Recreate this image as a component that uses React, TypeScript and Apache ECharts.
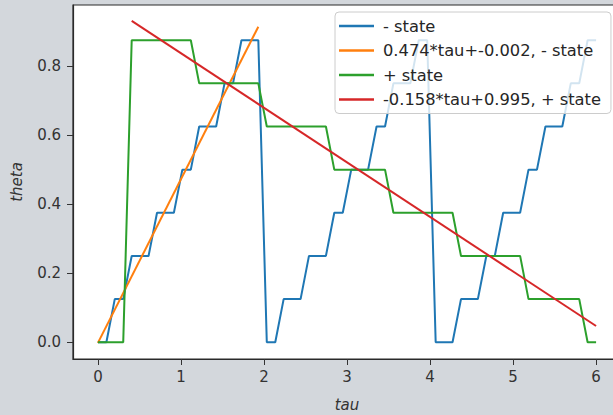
import React, { useEffect, useRef } from "react";
import * as echarts from "echarts";

const tau = [
  0, 0.102, 0.203, 0.305, 0.407, 0.508, 0.61, 0.712, 0.814, 0.915,
  1.017, 1.119, 1.22, 1.322, 1.424, 1.525, 1.627, 1.729, 1.831, 1.932,
  2.034, 2.136, 2.237, 2.339, 2.441, 2.542, 2.644, 2.746, 2.847, 2.949,
  3.051, 3.153, 3.254, 3.356, 3.458, 3.559, 3.661, 3.763, 3.864, 3.966,
  4.068, 4.169, 4.271, 4.373, 4.475, 4.576, 4.678, 4.78, 4.881, 4.983,
  5.085, 5.186, 5.288, 5.39, 5.492, 5.593, 5.695, 5.797, 5.898, 6.0,
];

const minusState = [
  0, 0, 0.125, 0.125, 0.25, 0.25, 0.25, 0.375, 0.375, 0.375,
  0.5, 0.5, 0.625, 0.625, 0.625, 0.75, 0.75, 0.875, 0.875, 0.875,
  0, 0, 0.125, 0.125, 0.125, 0.25, 0.25, 0.25, 0.375, 0.375,
  0.5, 0.5, 0.5, 0.625, 0.625, 0.75, 0.75, 0.75, 0.875, 0.875,
  0, 0, 0, 0.125, 0.125, 0.125, 0.25, 0.25, 0.375, 0.375,
  0.375, 0.5, 0.5, 0.625, 0.625, 0.625, 0.75, 0.75, 0.875, 0.875,
];

const plusState = [
  0, 0, 0, 0, 0.875, 0.875, 0.875, 0.875, 0.875, 0.875,
  0.875, 0.875, 0.75, 0.75, 0.75, 0.75, 0.75, 0.75, 0.75, 0.75,
  0.625, 0.625, 0.625, 0.625, 0.625, 0.625, 0.625, 0.625, 0.5, 0.5,
  0.5, 0.5, 0.5, 0.5, 0.5, 0.375, 0.375, 0.375, 0.375, 0.375,
  0.375, 0.375, 0.375, 0.25, 0.25, 0.25, 0.25, 0.25, 0.25, 0.25,
  0.25, 0.125, 0.125, 0.125, 0.125, 0.125, 0.125, 0.125, 0, 0,
];

// fitted lines (endpoints)
const minusFitTau = [0, 1.932];
const minusFitTheta = [-0.002, 0.914];
const plusFitTau = [0.407, 6.0];
const plusFitTheta = [0.931, 0.047];

const xTicks = [0, 1, 2, 3, 4, 5, 6];
const yTicks = [0, 0.2, 0.4, 0.6, 0.8];

const seriesNames = [
  "- state",
  "0.474*tau+-0.002, - state",
  "+ state",
  "-0.158*tau+0.995, + state",
];
const colors = ["#1f77b4", "#ff7f0e", "#2ca02c", "#d62728"];

const zip = (xs: number[], ys: number[]) => xs.map((x, i) => [x, ys[i]]);

export default function App() {
  const ref = useRef<HTMLDivElement>(null);
  useEffect(() => {
    if (!ref.current) return;
    const chart = echarts.init(ref.current, null, { renderer: "svg" });
    const font = "DejaVu Sans";
    const lineSeries = (name: string, data: number[][], color: string) => ({
      name,
      type: "line",
      data,
      showSymbol: false,
      symbol: "none",
      color,
      lineStyle: { color, width: 2 },
    });
    chart.setOption({
      animation: false,
      backgroundColor: "#d3d7dc",
      textStyle: { fontFamily: font },
      grid: {
        left: 73,
        top: 5,
        right: -8,
        bottom: 56,
        containLabel: false,
        outerBoundsMode: "none",
        show: true,
        backgroundColor: "#ffffff",
        borderColor: "#2a2a2a",
        borderWidth: 1.2,
      },
      legend: {
        orient: "vertical",
        left: 335,
        top: 12,
        padding: [5, 10, 5, 4],
        itemGap: 6.5,
        itemWidth: 35,
        itemHeight: 2.5,
        icon: "rect",
        backgroundColor: "rgba(255,255,255,0.8)",
        borderColor: "#cccccc",
        borderWidth: 1,
        borderRadius: 4,
        textStyle: {
          fontFamily: font,
          fontSize: 16.3,
          lineHeight: 18,
          color: "#262626",
          padding: [0, 0, 0, 4],
        },
        data: seriesNames,
      },
      xAxis: {
        type: "value",
        min: -0.3,
        max: 6.3,
        name: "tau",
        nameLocation: "middle",
        nameGap: 38,
        nameTextStyle: { fontFamily: font, fontSize: 15, fontStyle: "italic", color: "#333" },
        splitLine: { show: false },
        axisLine: { show: true, onZero: false, lineStyle: { color: "#2a2a2a", width: 1.2 } },
        axisTick: { show: true, length: 6, lineStyle: { color: "#333" }, customValues: xTicks },
        axisLabel: {
          fontFamily: font,
          fontSize: 15,
          color: "#333",
          margin: 10,
          customValues: xTicks,
          formatter: (v: number) => String(Math.round(v)),
        },
      },
      yAxis: {
        type: "value",
        min: -0.0486,
        max: 0.977,
        name: "theta",
        nameLocation: "middle",
        nameGap: 49,
        nameRotate: 90,
        nameTextStyle: { fontFamily: font, fontSize: 15, fontStyle: "italic", color: "#333" },
        splitLine: { show: false },
        axisLine: { show: true, onZero: false, lineStyle: { color: "#2a2a2a", width: 1.2 } },
        axisTick: { show: true, length: 6, lineStyle: { color: "#333" }, customValues: yTicks },
        axisLabel: {
          fontFamily: font,
          fontSize: 15,
          color: "#333",
          margin: 12,
          customValues: yTicks,
          formatter: (v: number) => v.toFixed(1),
        },
      },
      series: [
        lineSeries(seriesNames[0], zip(tau, minusState), colors[0]),
        lineSeries(seriesNames[1], zip(minusFitTau, minusFitTheta), colors[1]),
        lineSeries(seriesNames[2], zip(tau, plusState), colors[2]),
        lineSeries(seriesNames[3], zip(plusFitTau, plusFitTheta), colors[3]),
      ],
    });
    return () => chart.dispose();
  }, []);
  return (
    <div
      ref={ref}
      style={{ position: "fixed", left: 0, top: 0, width: 613, height: 415 }}
    />
  );
}
